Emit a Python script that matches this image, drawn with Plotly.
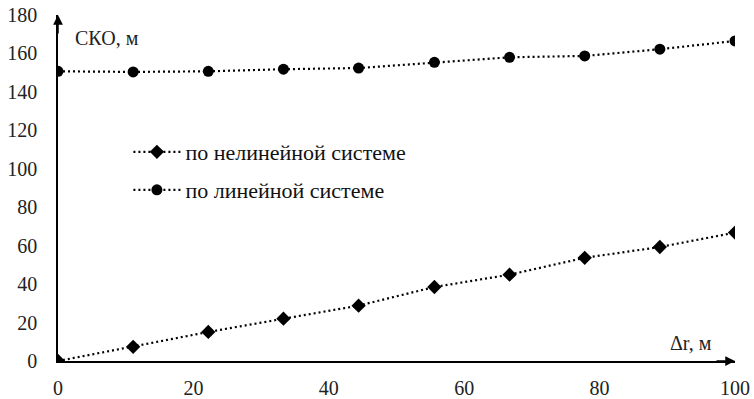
import plotly.graph_objects as go

# Offset Δr, m
dr = [0, 11.1, 22.2, 33.3, 44.4, 55.6, 66.7, 77.8, 88.9, 100]

# RMS error (СКО), m
sko_nonlinear = [0.0, 7.4, 15.1, 22.0, 28.8, 38.5, 44.9, 53.7, 59.3, 66.8]
sko_linear = [150.7, 150.4, 150.7, 151.8, 152.4, 155.4, 158.0, 158.7, 162.2, 166.5]

y_ticks = list(range(0, 181, 20))
x_ticks = list(range(0, 101, 20))

FONT = "Times New Roman"
DOT = "2px,3px"

fig = go.Figure()

fig.add_trace(go.Scatter(
    x=dr, y=sko_nonlinear, mode="lines+markers",
    name="по нелинейной системе",
    line=dict(color="black", width=2.2, dash=DOT),
    marker=dict(symbol="diamond", size=11, color="black"),
    legend="legend",
))
fig.add_trace(go.Scatter(
    x=dr, y=sko_linear, mode="lines+markers",
    name="по линейной системе",
    line=dict(color="black", width=2.2, dash=DOT),
    marker=dict(symbol="circle", size=11, color="black"),
    legend="legend2",
))

legend_common = dict(
    font=dict(family=FONT, size=22, color="#111"),
    bgcolor="rgba(0,0,0,0)", borderwidth=0,
    xanchor="left", yanchor="middle", itemwidth=47,
)

fig.update_layout(
    width=754, height=399,
    margin=dict(l=58, r=19, t=15, b=38, autoexpand=False),
    paper_bgcolor="white", plot_bgcolor="white",
    font=dict(family=FONT, size=20, color="#111"),
    showlegend=True,
    legend=dict(x=0.104, y=(361 - 152) / 346, **legend_common),
    legend2=dict(x=0.104, y=(361 - 190) / 346, **legend_common),
    xaxis=dict(
        range=[0, 100], tickvals=x_ticks, showgrid=False, zeroline=False,
        showline=True, linecolor="black", linewidth=1.5, automargin=False,
        ticks="", ticklabelstandoff=8,
        tickfont=dict(family=FONT, size=20, color="#222"),
    ),
    yaxis=dict(
        range=[0, 180], tickvals=y_ticks, showgrid=False, zeroline=False,
        showline=True, linecolor="black", linewidth=1.5, automargin=False,
        ticks="", ticklabelstandoff=15,
        tickfont=dict(family=FONT, size=20, color="#222"),
    ),
)

# axis arrows
fig.add_annotation(x=100, y=0, xref="x", yref="y", ax=-20, ay=0,
                   showarrow=True, arrowhead=2, arrowsize=1.3, arrowwidth=1.5,
                   arrowcolor="black", text="")
fig.add_annotation(x=0, y=180, xref="x", yref="y", ax=0, ay=20,
                   showarrow=True, arrowhead=2, arrowsize=1.3, arrowwidth=1.5,
                   arrowcolor="black", text="")

# axis titles
fig.add_annotation(x=0.022, y=(361 - 38) / 346, xref="paper", yref="paper",
                   text="СКО, м", showarrow=False, xanchor="left", yanchor="middle",
                   font=dict(family=FONT, size=20, color="#222"))
fig.add_annotation(x=(668 - 58) / 677, y=(361 - 343) / 346, xref="paper", yref="paper",
                   text="Δr, м", showarrow=False, xanchor="left", yanchor="middle",
                   font=dict(family=FONT, size=20, color="#222"))

fig.write_html("out.html")
